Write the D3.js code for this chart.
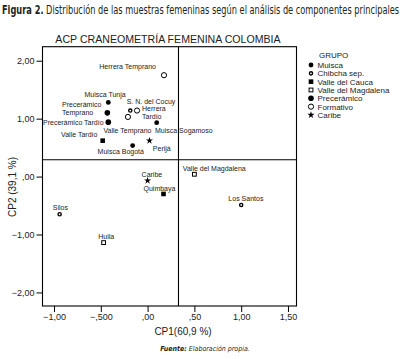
<!DOCTYPE html>
<html>
<head>
<meta charset="utf-8">
<script src="https://cdn.jsdelivr.net/npm/d3@7"></script>
<style>
  body { margin: 0; background: #fff; }
  svg { display: block; font-family: "Liberation Sans", Arial, sans-serif; }
  .cond { font-family: "Liberation Sans Narrow", "DejaVu Sans Condensed", sans-serif; }
</style>
</head>
<body>
<svg id="chart" width="414" height="359"></svg>
<script>
// --- data ---
const groups = ["Muisca", "Chibcha sep.", "Valle del Cauca", "Valle del Magdalena", "Precerámico", "Formativo", "Caribe"];

const sampleNames = [
  "Herrera Temprano", "Muisca Tunja", "Precerámico Temprano", "S. N. del Cocuy", "Herrera Tardío",
  "Valle Temprano", "Precerámico Tardío", "Muisca Sogamoso", "Valle Tardío", "Muisca Bogotá",
  "Perijá", "Caribe", "Quimbaya", "Valle del Magdalena", "Los Santos", "Silos", "Huila"
];
const sampleGroups = [
  "Formativo", "Muisca", "Precerámico", "Chibcha sep.", "Formativo",
  "Formativo", "Precerámico", "Muisca", "Valle del Cauca", "Muisca",
  "Caribe", "Caribe", "Valle del Cauca", "Valle del Magdalena", "Chibcha sep.", "Chibcha sep.", "Valle del Magdalena"
];
const cp1 = [0.175, -0.42, -0.43, -0.185, -0.113, -0.21, -0.42, 0.097, -0.48, -0.16, 0.02, 0.0, 0.17, 0.50, 1.00, -0.94, -0.47];
const cp2 = [1.75, 1.28, 1.10, 1.14, 1.14, 1.03, 0.94, 0.93, 0.62, 0.535, 0.62, -0.07, -0.30, 0.04, -0.49, -0.65, -1.14];

const refX = 0.33, refY = 0.29;

const xTicks = [-1, -0.5, 0, 0.5, 1, 1.5];
const xTickLabels = ["\u22121,00", "\u2212,500", ",00", ",50", "1,00", "1,50"];
const yTicks = [-2, -1, 0, 1, 2];
const yTickLabels = ["\u22122,00", "\u22121,00", ",00", "1,00", "2,00"];

// --- layout ---
const svg = d3.select("#chart");
const frame = { left: 42.5, right: 296.5, top: 46.7, bottom: 306 };

const x = d3.scaleLinear().domain([-1.123, 1.591]).range([frame.left, frame.right]);
const y = d3.scaleLinear().domain([-2.234, 2.242]).range([frame.bottom, frame.top]);

svg.append("rect").attr("width", 414).attr("height", 359).attr("fill", "#fff");

// caption, squeezed to the width it has in the figure
const cap = svg.append("text").attr("class", "cond")
  .attr("font-size", 11.5).attr("fill", "#231f20");
cap.append("tspan").attr("font-weight", "bold").text("Figura 2.");
cap.append("tspan").text(" Distribución de las muestras femeninas según el análisis de componentes principales");
const capW = cap.node().getComputedTextLength();
cap.attr("transform", `translate(2,14) scale(${398 / capW},1)`);

// title
svg.append("text")
  .attr("x", 168).attr("y", 43).attr("text-anchor", "middle")
  .attr("font-size", 10.6).attr("fill", "#222")
  .text("ACP CRANEOMETRÍA FEMENINA COLOMBIA");

// axes
const yAxis = d3.axisLeft(y).tickValues(yTicks)
  .tickFormat((d, i) => yTickLabels[i]).tickSize(6).tickSizeOuter(0);
const xAxis = d3.axisBottom(x).tickValues(xTicks)
  .tickFormat((d, i) => xTickLabels[i]).tickSize(6).tickSizeOuter(0);

const gy = svg.append("g").attr("transform", `translate(${frame.left},0)`).call(yAxis);
const gx = svg.append("g").attr("transform", `translate(0,${frame.bottom})`).call(xAxis);
[gx, gy].forEach(g => {
  g.select(".domain").remove();
  g.selectAll(".tick line").attr("stroke", "#000");
  g.selectAll(".tick text").attr("font-size", 9).attr("fill", "#222")
    .attr("font-family", "'Liberation Sans', Arial, sans-serif");
});
gy.selectAll(".tick text").attr("x", -8);
gx.selectAll(".tick text").attr("y", 8);

// frame and reference lines
svg.append("rect")
  .attr("x", frame.left).attr("y", frame.top)
  .attr("width", frame.right - frame.left).attr("height", frame.bottom - frame.top)
  .attr("fill", "none").attr("stroke", "#000").attr("stroke-width", 1.1);
svg.append("line")
  .attr("x1", x(refX)).attr("x2", x(refX)).attr("y1", frame.top).attr("y2", frame.bottom)
  .attr("stroke", "#000").attr("stroke-width", 1.1);
svg.append("line")
  .attr("x1", frame.left).attr("x2", frame.right).attr("y1", y(refY)).attr("y2", y(refY))
  .attr("stroke", "#000").attr("stroke-width", 1.1);

// axis titles
svg.append("text")
  .attr("x", 183).attr("y", 334.5).attr("text-anchor", "middle")
  .attr("font-size", 10).attr("fill", "#222").text("CP1(60,9 %)");
svg.append("text")
  .attr("transform", "translate(15.5,187) rotate(-90)").attr("text-anchor", "middle")
  .attr("font-size", 10).attr("fill", "#222").text("CP2 (39,1 %)");

const src = svg.append("text").attr("class", "cond")
  .attr("x", 205).attr("y", 351).attr("text-anchor", "middle")
  .attr("font-size", 7).attr("font-style", "italic").attr("fill", "#231f20");
src.append("tspan").attr("font-weight", "bold").text("Fuente:");
src.append("tspan").text(" Elaboración propia.");

// marker drawing per group
function drawMarker(g, grp) {
  if (grp === "Muisca") {
    g.append("circle").attr("r", 2.4).attr("fill", "#000");
  } else if (grp === "Precerámico") {
    g.append("circle").attr("r", 2.8).attr("fill", "#000");
  } else if (grp === "Chibcha sep.") {
    g.append("circle").attr("r", 1.6).attr("fill", "#fff").attr("stroke", "#000").attr("stroke-width", 1.4);
  } else if (grp === "Formativo") {
    g.append("circle").attr("r", 2.6).attr("fill", "#fff").attr("stroke", "#000").attr("stroke-width", 1);
  } else if (grp === "Valle del Cauca") {
    g.append("rect").attr("x", -2.3).attr("y", -2.3).attr("width", 4.6).attr("height", 4.6).attr("fill", "#000");
  } else if (grp === "Valle del Magdalena") {
    g.append("rect").attr("x", -1.9).attr("y", -1.9).attr("width", 3.8).attr("height", 3.8)
      .attr("fill", "#fff").attr("stroke", "#000").attr("stroke-width", 1);
  } else if (grp === "Caribe") {
    g.append("path").attr("d", d3.symbol(d3.symbolStar, 16)()).attr("fill", "#000");
  }
}

// label placement: [dx, dy, anchor, second-line dy]
const labelPlace = {
  "Herrera Temprano": [-8, -5.8, "end"],
  "Muisca Tunja": [-3.2, -5.8, "middle"],
  "Precerámico Temprano": [-45.3, -5.9, "start", 8],
  "S. N. del Cocuy": [-3.6, -6.1, "start"],
  "Herrera Tardío": [5, 0.5, "start", 7.7],
  "Valle Temprano": [-0.5, 16.5, "middle"],
  "Precerámico Tardío": [-4.7, 2.9, "end"],
  "Muisca Sogamoso": [-1.7, 10.5, "start"],
  "Valle Tardío": [-5.3, -3.5, "end"],
  "Muisca Bogotá": [11.3, 8.5, "end"],
  "Perijá": [3.4, 10.5, "start"],
  "Caribe": [-6, -3.9, "start"],
  "Quimbaya": [-20, -2.5, "start"],
  "Valle del Magdalena": [-11.6, -3.5, "start"],
  "Los Santos": [4.7, -4.1, "middle"],
  "Silos": [0.8, -4.1, "middle"],
  "Huila": [2.6, -4.1, "middle"]
};

const pts = sampleNames.map((n, i) => ({ name: n, group: sampleGroups[i], cx: cp1[i], cy: cp2[i] }));

const labels = svg.append("g").attr("font-size", 7).attr("fill", "#222");
pts.forEach(p => {
  const pl = labelPlace[p.name];
  const t = labels.append("text")
    .attr("x", x(p.cx) + pl[0]).attr("y", y(p.cy) + pl[1])
    .attr("text-anchor", pl[2]);
  if (pl.length > 3) {
    const words = p.name.split(" ");
    t.append("tspan").text(words[0]);
    t.append("tspan").attr("x", x(p.cx) + pl[0]).attr("dy", pl[3]).text(words.slice(1).join(" "));
  } else {
    t.text(p.name);
  }
});

svg.append("g").selectAll("g.pt")
  .data(pts).join("g").attr("class", "pt")
  .attr("transform", d => `translate(${x(d.cx)},${y(d.cy)})`)
  .each(function (d) { drawMarker(d3.select(this), d.group); });

// legend
const leg = svg.append("g").attr("font-size", 8).attr("fill", "#222");
leg.append("text").attr("x", 319).attr("y", 58).text("GRUPO");
groups.forEach((grp, i) => {
  const yy = 65 + i * 8.33;
  const g = leg.append("g").attr("transform", `translate(311,${yy})`);
  drawMarker(g, grp);
  leg.append("text").attr("x", 317.5).attr("y", yy + 2.9).text(grp);
});
</script>
</body>
</html>
